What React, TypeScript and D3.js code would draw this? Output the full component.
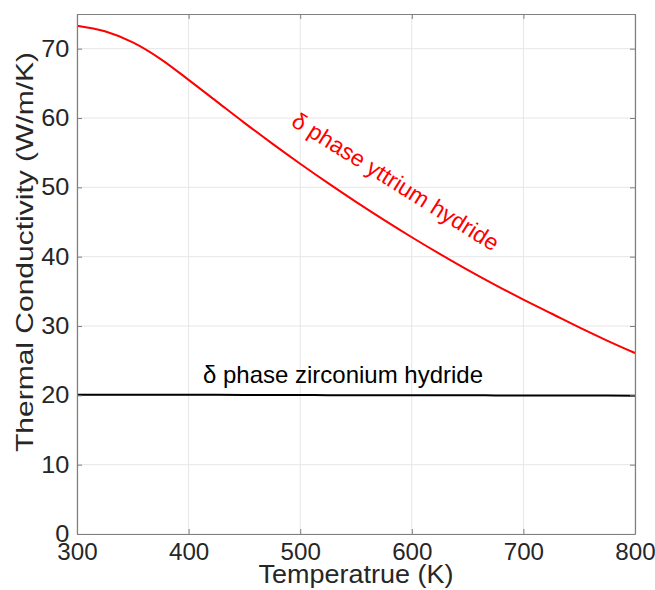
import { useEffect, useRef } from 'react';
import * as d3 from 'd3';

const temps = [300, 325, 350, 375, 400, 425, 450, 475, 500, 525, 550, 575, 600, 625, 650, 675, 700, 725, 750, 775, 800];
// δ phase yttrium hydride, W/m/K
const yttrium = [73.3, 72.5, 70.9, 68.5, 65.5, 62.4, 59.3, 56.3, 53.4, 50.6, 47.9, 45.3, 42.8, 40.4, 38.1, 35.9, 33.8, 31.8, 29.8, 27.9, 26.1];
// δ phase zirconium hydride, W/m/K
const zirconium = [20.1, 20.1, 20.1, 20.09, 20.08, 20.07, 20.06, 20.05, 20.04, 20.03, 20.02, 20.02, 20.01, 20.0, 20.0, 19.99, 19.98, 19.98, 19.97, 19.96, 19.95];

const xTicks = [300, 400, 500, 600, 700, 800];
const yTicks = [0, 10, 20, 30, 40, 50, 60, 70];

const W = 655;
const H = 590;
const margin = { top: 14, right: 20, bottom: 56, left: 77 };
const font = '"Liberation Sans", Arial, Helvetica, sans-serif';
const axisColor = '#7f7f7f';
const textColor = '#262626';

export default function App() {
  const svgRef = useRef<SVGSVGElement>(null);

  useEffect(() => {
    document.body.style.margin = '0';
    if (!svgRef.current) return;
    const svg = d3.select(svgRef.current);
    svg.selectAll('*').remove();

    const innerW = W - margin.left - margin.right;
    const innerH = H - margin.top - margin.bottom;

    const x = d3.scaleLinear().domain([300, 800]).range([0, innerW]);
    const y = d3.scaleLinear().domain([0, 75]).range([innerH, 0]);

    svg.append('rect').attr('width', W).attr('height', H).attr('fill', '#fff');

    const g = svg.append('g').attr('transform', `translate(${margin.left},${margin.top})`);

    // grid
    const grid = g.append('g').attr('stroke', '#e6e6e6').attr('stroke-width', 1);
    xTicks.forEach((t) => {
      grid.append('line').attr('x1', x(t)).attr('x2', x(t)).attr('y1', 0).attr('y2', innerH);
    });
    yTicks.forEach((t) => {
      grid.append('line').attr('x1', 0).attr('x2', innerW).attr('y1', y(t)).attr('y2', y(t));
    });

    // curves
    const line = d3
      .line<number>()
      .x((_, i) => x(temps[i]))
      .y((d) => y(d))
      .curve(d3.curveMonotoneX);

    g.append('path')
      .datum(zirconium)
      .attr('fill', 'none')
      .attr('stroke', '#000')
      .attr('stroke-width', 2)
      .attr('d', line);

    g.append('path')
      .datum(yttrium)
      .attr('fill', 'none')
      .attr('stroke', '#ff0000')
      .attr('stroke-width', 2)
      .attr('d', line);

    // box with inward ticks on all four sides
    const bottomAxis = g
      .append('g')
      .attr('transform', `translate(0,${innerH})`)
      .call(d3.axisBottom(x).tickValues(xTicks).tickSize(-5).tickSizeOuter(0));
    const topAxis = g
      .append('g')
      .call(d3.axisTop(x).tickValues(xTicks).tickSize(-5).tickSizeOuter(0).tickFormat(() => ''));
    const leftAxis = g
      .append('g')
      .call(d3.axisLeft(y).tickValues(yTicks).tickSize(-5).tickSizeOuter(0));
    const rightAxis = g
      .append('g')
      .attr('transform', `translate(${innerW},0)`)
      .call(d3.axisRight(y).tickValues(yTicks).tickSize(-5).tickSizeOuter(0).tickFormat(() => ''));

    [bottomAxis, topAxis, leftAxis, rightAxis].forEach((a) => {
      a.select('.domain').attr('stroke', axisColor).attr('stroke-width', 1.2);
      a.selectAll('line').attr('stroke', axisColor);
      a.selectAll('text')
        .attr('font-family', font)
        .attr('font-size', 23)
        .attr('fill', textColor);
    });
    // tick labels in the picture come out a little wide
    bottomAxis.selectAll('text').attr('y', 10).attr('dy', '0.71em').attr('transform', 'scale(1.05,1)');
    leftAxis.selectAll('text').attr('x', -7).attr('transform', 'scale(1.1,1)');

    // series labels
    g.append('text')
      .attr('transform', `translate(${290 - margin.left},${125 - margin.top}) rotate(32)`)
      .attr('text-anchor', 'start')
      .attr('font-family', font)
      .attr('font-size', 23)
      .attr('fill', '#ff0000')
      .text('δ phase yttrium hydride');

    g.append('text')
      .attr('x', 343 - margin.left)
      .attr('y', y(22.3) + 4)
      .attr('text-anchor', 'middle')
      .attr('font-family', font)
      .attr('font-size', 24)
      .attr('textLength', 280)
      .attr('lengthAdjust', 'spacingAndGlyphs')
      .attr('fill', '#000')
      .text('δ phase zirconium hydride');

    // axis titles
    svg.append('text')
      .attr('x', 356)
      .attr('y', 583)
      .attr('text-anchor', 'middle')
      .attr('font-family', font)
      .attr('font-size', 25)
      .attr('textLength', 195)
      .attr('lengthAdjust', 'spacingAndGlyphs')
      .attr('fill', textColor)
      .text('Temperatrue (K)');

    svg.append('text')
      .attr('transform', `translate(33,252) rotate(-90)`)
      .attr('text-anchor', 'middle')
      .attr('font-family', font)
      .attr('font-size', 24)
      .attr('textLength', 400)
      .attr('lengthAdjust', 'spacingAndGlyphs')
      .attr('fill', textColor)
      .text('Thermal Conductivity (W/m/K)');
  }, []);

  return <svg ref={svgRef} width={W} height={H} style={{ display: 'block' }} />;
}
